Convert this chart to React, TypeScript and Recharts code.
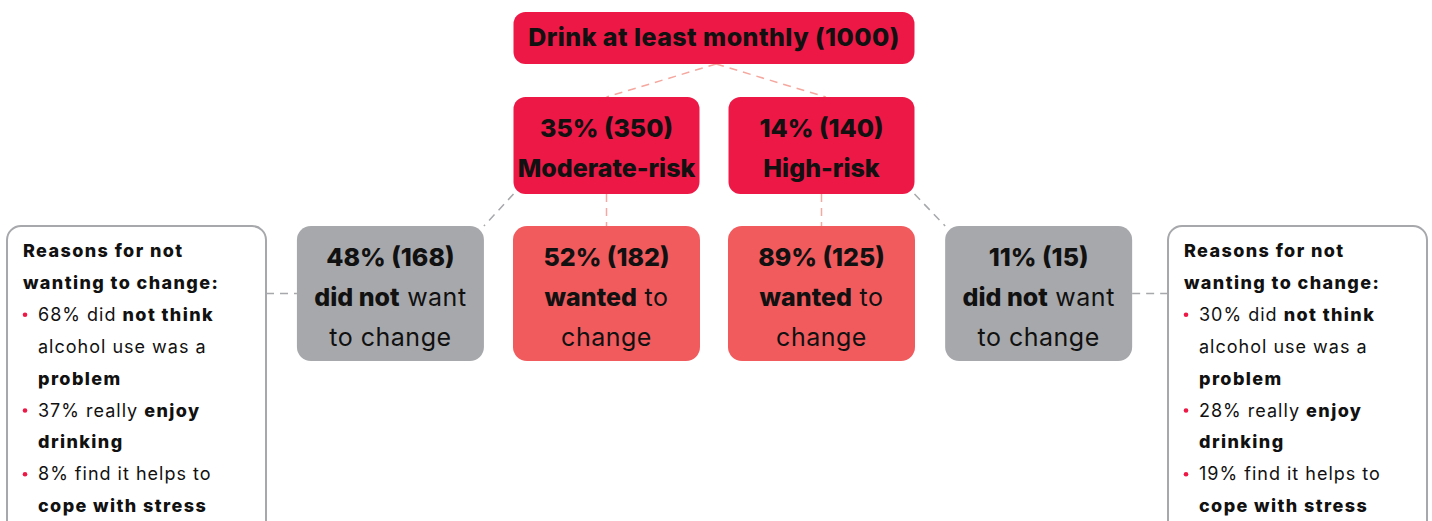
import { ScatterChart, Scatter, XAxis, YAxis, ReferenceLine } from 'recharts';

// values
const totalCount = 1000;
const riskGroups = ['Moderate-risk', 'High-risk'];
const riskPct = [35, 14];
const riskCount = [350, 140];
const wantedPct = [52, 89];
const wantedCount = [182, 125];
const notWantedPct = [48, 11];
const notWantedCount = [168, 15];
const notProblemPct = [68, 30];
const enjoyPct = [37, 28];
const stressPct = [8, 19];

const CRIMSON = '#EE1846';
const SALMON = '#F15B5E';
const GREY = '#A7A8AB';
const INK = '#111111';
const FONT = 'Inter, "Noto Sans", sans-serif';
const BOLD = 800;

// layout: columns on the x axis (215px apart, centred at 714px), pixel-like units on y
const COL_PX = 215;
const X_DOMAIN = [-714 / COL_PX, 718 / COL_PX];
const RISK_COL = [-0.5, 0.5];
const NOT_COL = [-1.505, 1.51];
const NOTE_COL = [-2.686, 2.714];
const LEVEL_TOP = [12, 97, 226];

const BOX: Record<string, { w: number; h: number; rx: number; fill: string }> = {
  root: { w: 401, h: 52, rx: 12, fill: CRIMSON },
  risk: { w: 186, h: 97, rx: 12, fill: CRIMSON },
  wanted: { w: 187, h: 135, rx: 14, fill: SALMON },
  notWanted: { w: 187, h: 135, rx: 14, fill: GREY },
  note: { w: 259, h: 330, rx: 14, fill: '#FFFFFF' },
};

type Seg = { t: string; b?: boolean };
type Line = { segs: Seg[]; bullet?: boolean; indent?: boolean };

const mid = (kind: string, level: number) => LEVEL_TOP[level] + BOX[kind].h / 2;
const hw = (kind: string) => BOX[kind].w / 2 / COL_PX;

const noteLines = (i: number): Line[] => [
  { segs: [{ t: 'Reasons for not', b: true }] },
  { segs: [{ t: 'wanting to change:', b: true }] },
  { bullet: true, indent: true, segs: [{ t: `${notProblemPct[i]}% did ` }, { t: 'not think', b: true }] },
  { indent: true, segs: [{ t: 'alcohol use was a' }] },
  { indent: true, segs: [{ t: 'problem', b: true }] },
  { bullet: true, indent: true, segs: [{ t: `${enjoyPct[i]}% really ` }, { t: 'enjoy', b: true }] },
  { indent: true, segs: [{ t: 'drinking', b: true }] },
  { bullet: true, indent: true, segs: [{ t: `${stressPct[i]}% find it helps to` }] },
  { indent: true, segs: [{ t: 'cope with stress', b: true }] },
];

const nodes = [
  { kind: 'root', x: 0, y: mid('root', 0), lines: [[{ t: `Drink at least monthly (${totalCount})`, b: true }]] },
  ...riskGroups.map((g, i) => ({
    kind: 'risk',
    x: RISK_COL[i],
    y: mid('risk', 1),
    lines: [[{ t: `${riskPct[i]}% (${riskCount[i]})`, b: true }], [{ t: g, b: true }]],
  })),
  ...riskGroups.map((_, i) => ({
    kind: 'wanted',
    x: RISK_COL[i],
    y: mid('wanted', 2),
    lines: [
      [{ t: `${wantedPct[i]}% (${wantedCount[i]})`, b: true }],
      [{ t: 'wanted', b: true }, { t: ' to' }],
      [{ t: 'change' }],
    ],
  })),
  ...riskGroups.map((_, i) => ({
    kind: 'notWanted',
    x: NOT_COL[i],
    y: mid('notWanted', 2),
    lines: [
      [{ t: `${notWantedPct[i]}% (${notWantedCount[i]})`, b: true }],
      [{ t: 'did not', b: true }, { t: ' want' }],
      [{ t: 'to change' }],
    ],
  })),
  ...riskGroups.map((_, i) => ({ kind: 'note', x: NOTE_COL[i], y: mid('note', 2), note: noteLines(i) })),
];

const rowTwoMid = mid('wanted', 2);
const links = [
  { from: { x: 0.01, y: LEVEL_TOP[0] + BOX.root.h }, to: { x: RISK_COL[0], y: LEVEL_TOP[1] }, stroke: '#F5A89F' },
  { from: { x: 0.01, y: LEVEL_TOP[0] + BOX.root.h }, to: { x: RISK_COL[1] + 0.02, y: LEVEL_TOP[1] }, stroke: '#F5A89F' },
  ...RISK_COL.map((c) => ({ from: { x: c, y: LEVEL_TOP[1] + BOX.risk.h }, to: { x: c, y: LEVEL_TOP[2] }, stroke: '#F5A89F' })),
  {
    from: { x: RISK_COL[0] - hw('risk'), y: LEVEL_TOP[1] + BOX.risk.h },
    to: { x: NOT_COL[0] + hw('notWanted'), y: LEVEL_TOP[2] },
    stroke: GREY,
  },
  {
    from: { x: RISK_COL[1] + hw('risk'), y: LEVEL_TOP[1] + BOX.risk.h },
    to: { x: NOT_COL[1] - hw('notWanted'), y: LEVEL_TOP[2] },
    stroke: GREY,
  },
  { from: { x: NOTE_COL[0] + hw('note'), y: rowTwoMid }, to: { x: NOT_COL[0] - hw('notWanted'), y: rowTwoMid }, stroke: GREY },
  { from: { x: NOT_COL[1] + hw('notWanted'), y: rowTwoMid }, to: { x: NOTE_COL[1] - hw('note'), y: rowTwoMid }, stroke: GREY },
];

function NodeShape(props: any) {
  const { cx, cy, payload } = props;
  const box = BOX[payload.kind];
  const left = cx - box.w / 2;
  const top = cy - box.h / 2;

  if (payload.kind === 'note') {
    return (
      <g>
        <rect x={left} y={top} width={box.w} height={box.h} rx={box.rx} fill="#fff" stroke={GREY} strokeWidth={2} />
        {(payload.note as Line[]).map((ln, i) => {
          const base = top + 31 + i * 31.9;
          return (
            <g key={i}>
              {ln.bullet && <circle cx={left + 18} cy={base - 6} r={2.3} fill={CRIMSON} />}
              <text x={left + (ln.indent ? 31 : 16)} y={base} fontSize={18} fill={INK} fontFamily={FONT} style={{ whiteSpace: 'pre' }}>
                {ln.segs.map((s, j) => (
                  <tspan key={j} fontWeight={s.b ? BOLD : 400} letterSpacing={s.b ? 1.4 : 1}>{s.t}</tspan>
                ))}
              </text>
            </g>
          );
        })}
      </g>
    );
  }

  const first = payload.kind === 'root' ? 34 : 40;
  const boldSpacing = payload.kind === 'root' ? 0.45 : 0;
  return (
    <g>
      <rect x={left} y={top} width={box.w} height={box.h} rx={box.rx} fill={box.fill} />
      {(payload.lines as Seg[][]).map((segs, i) => (
        <text
          key={i}
          x={cx}
          y={top + first + i * 40}
          textAnchor="middle"
          fontSize={25}
          fill={INK}
          fontFamily={FONT}
          style={{ whiteSpace: 'pre' }}
        >
          {segs.map((s, j) => (
            <tspan key={j} fontWeight={s.b ? BOLD : 400} letterSpacing={s.b ? boldSpacing : 0.5}>{s.t}</tspan>
          ))}
        </text>
      ))}
    </g>
  );
}

export default function App() {
  return (
    <div>
      <style>{'body{margin:0}'}</style>
      <ScatterChart width={1432} height={521} margin={{ top: 0, right: 0, bottom: 0, left: 0 }}>
        <XAxis type="number" dataKey="x" domain={X_DOMAIN} hide allowDataOverflow />
        <YAxis type="number" dataKey="y" domain={[0, 521]} reversed hide allowDataOverflow />
        {links.map((l, i) => (
          <ReferenceLine
            key={i}
            segment={[l.from, l.to]}
            stroke={l.stroke}
            strokeWidth={1.5}
            strokeDasharray="8 6"
            ifOverflow="visible"
          />
        ))}
        <Scatter data={nodes} shape={NodeShape} isAnimationActive={false} />
      </ScatterChart>
    </div>
  );
}
